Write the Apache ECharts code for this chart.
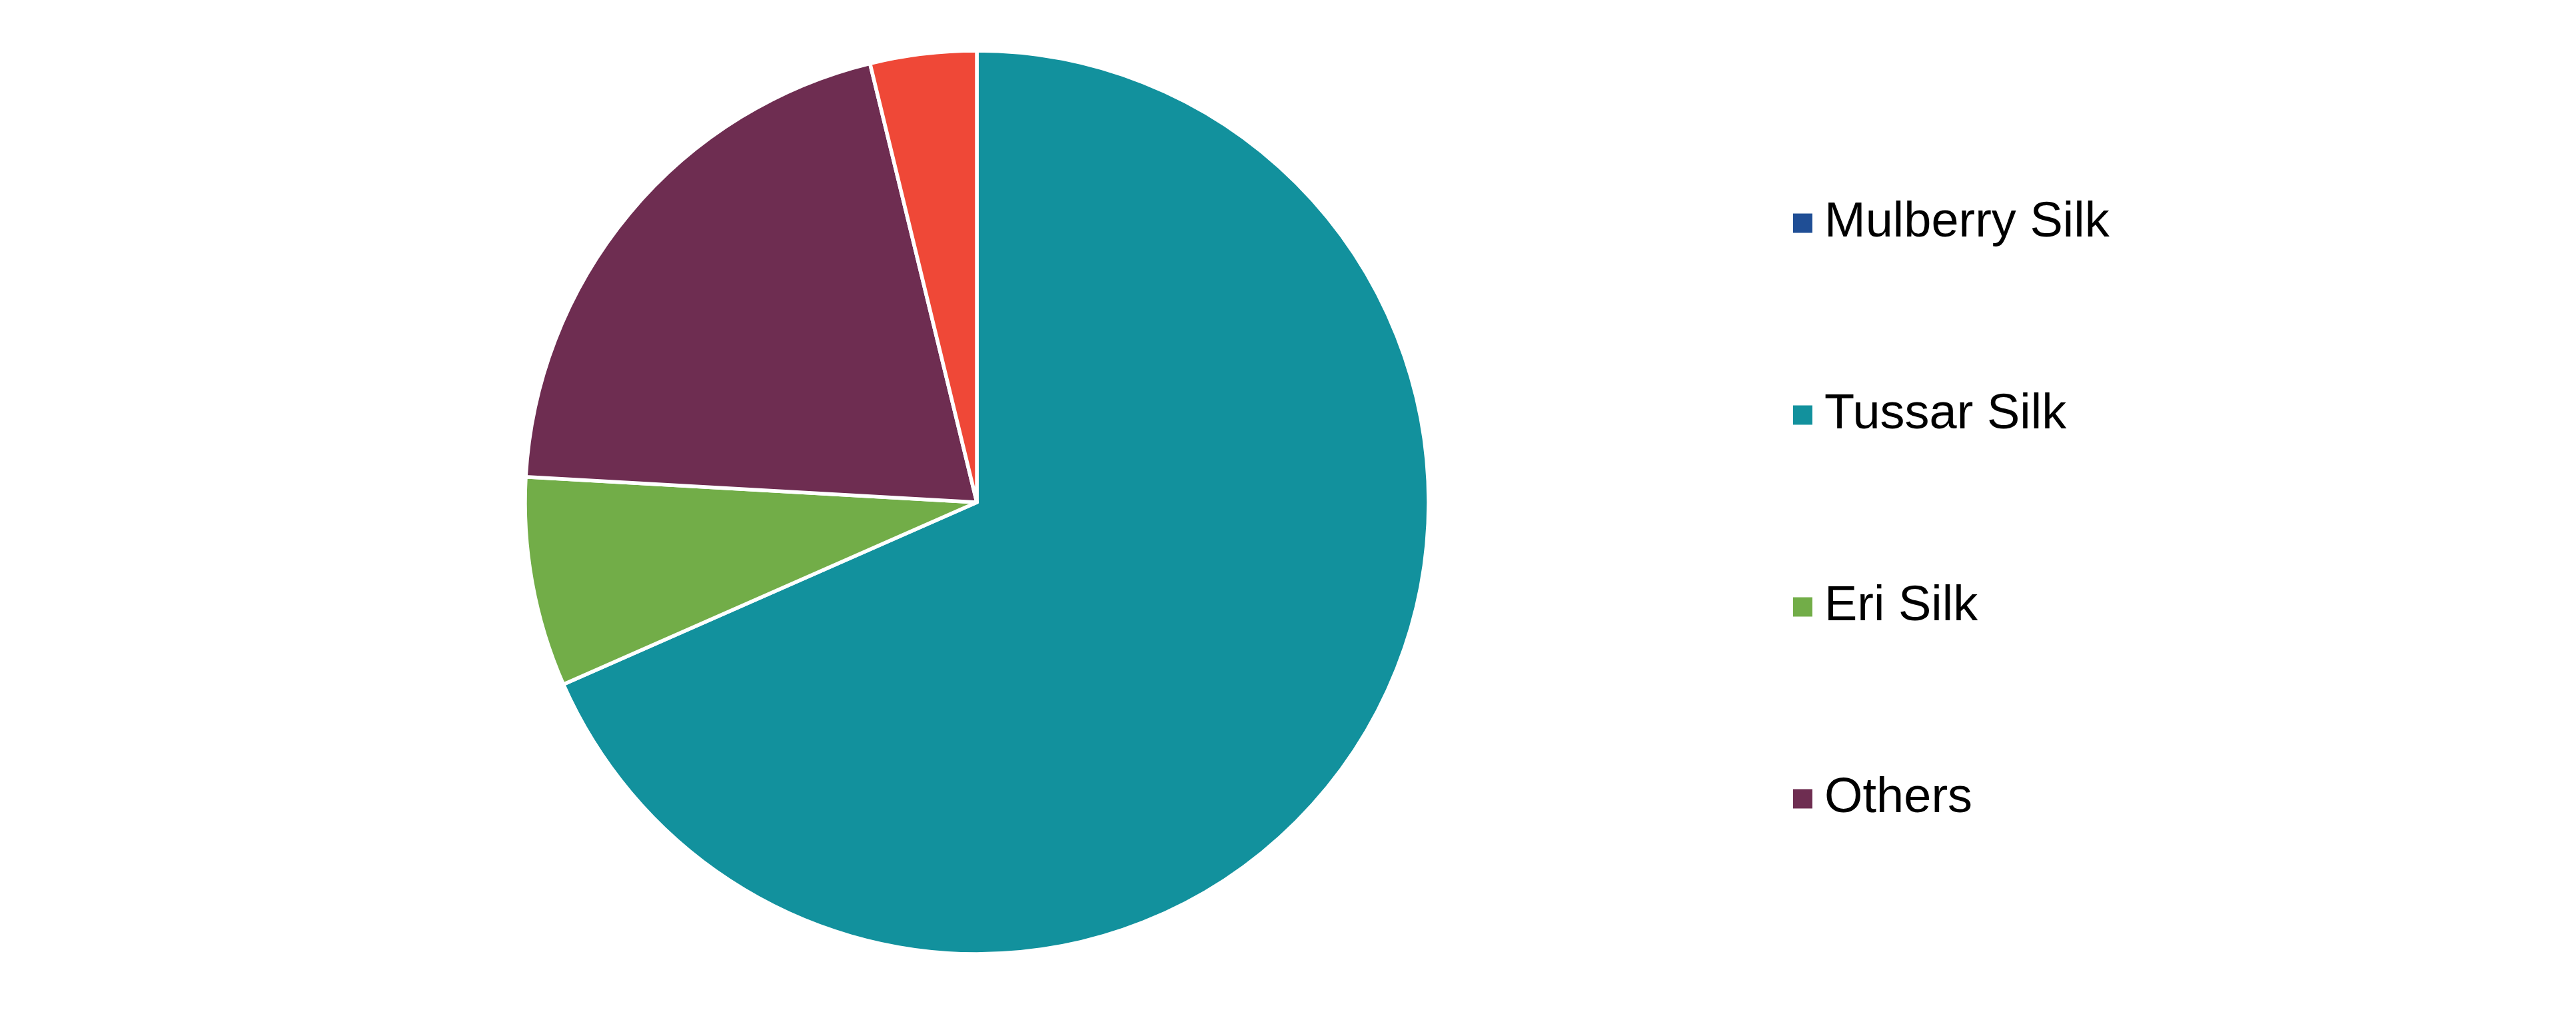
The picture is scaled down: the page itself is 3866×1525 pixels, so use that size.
<!DOCTYPE html>
<html>
<head>
    <meta charset="utf-8">
    <title>Silk production share</title>
    <script src="https://cdn.jsdelivr.net/npm/echarts@6/dist/echarts.min.js"></script>
    <style>
        html, body { margin: 0; padding: 0; background: #fff; }
        #chart { width: 3866px; height: 1525px; }
    </style>
</head>
<body>
<div id="chart"></div>
<script>
    // share of each silk type, clockwise from 12 o'clock
    var names = ['Mulberry Silk', 'Tussar Silk', 'Eri Silk', 'Others', 'Muga Silk'];
    var values = [0, 68.4, 7.5, 20.3, 3.8];
    var colors = ['#1F4E95', '#12919D', '#72AD48', '#6E2D51', '#EF4837'];
    var legendNames = ['Mulberry Silk', 'Tussar Silk', 'Eri Silk', 'Others'];

    var pieData = [];
    for (var i = 0; i < names.length; i++) {
        pieData.push({ name: names[i], value: values[i], itemStyle: { color: colors[i] } });
    }

    var myChart = echarts.init(document.getElementById('chart'));
    var option = {
        animation: false,
        legend: {
            data: legendNames,
            orient: 'vertical',
            left: 2684,
            top: 290,
            icon: 'rect',
            itemWidth: 31,
            itemHeight: 31,
            itemGap: 208,
            selectedMode: false,
            textStyle: {
                fontFamily: 'Liberation Sans',
                fontSize: 74,
                color: '#000',
                lineHeight: 80,
                padding: [0, 0, 0, 12]
            }
        },
        series: [{
            type: 'pie',
            center: [1466, 754],
            radius: 678,
            startAngle: 90,
            clockwise: true,
            data: pieData,
            label: { show: false },
            labelLine: { show: false },
            emphasis: { disabled: true },
            itemStyle: {
                borderColor: '#fff',
                borderWidth: 5.5
            }
        }]
    };
    myChart.setOption(option);
</script>
</body>
</html>
